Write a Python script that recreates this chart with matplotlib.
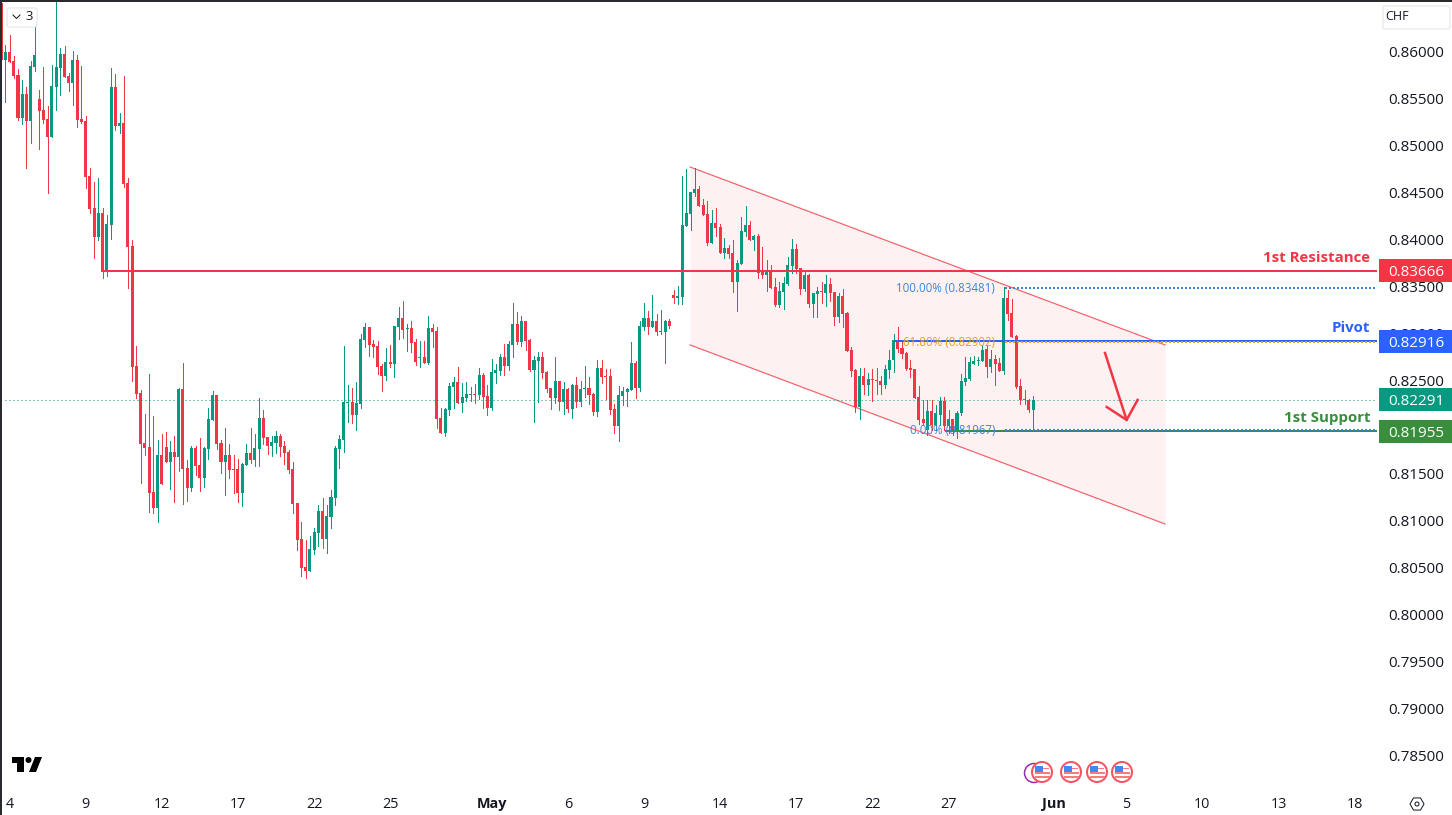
import numpy as np
import matplotlib
matplotlib.use('Agg')
import matplotlib.pyplot as plt
from matplotlib.patches import Circle, Polygon, Rectangle, FancyBboxPatch

plt.rcParams['font.family'] = ['Open Sans', 'DejaVu Sans']

# 4h candles, prices in 1e-5 CHF
opens = np.array([
    86519, 85915, 86000, 85904, 85755, 85296, 85552, 85264, 85840, 85499,
    85382, 85285, 85093, 85627, 85830, 85979, 85744, 85670, 85915, 85285,
    85264, 84677, 84336, 84027, 84283, 83653, 84155, 85627, 85211, 85243,
    84603, 83931, 82651, 82363, 81829, 81787, 81307, 81136, 81701, 81787,
    81627, 81733, 81680, 82406, 81563, 81349, 81776, 81595, 81456, 81765,
    82075, 82342, 81829, 81627, 81701, 81552, 81552, 81296, 81595, 81723,
    81648, 81765, 82096, 81893, 81797, 81829, 81904, 81797, 81733, 81552,
    81189, 80805, 80507, 80464, 80688, 80869, 81104, 80805, 81040, 81243,
    81765, 81861, 82256, 82267, 82128, 82245, 82928, 83067, 82885, 82864,
    82651, 82544, 82693, 82672, 83067, 83163, 83045, 83056, 82907, 82736,
    82747, 82683, 83056, 83024, 82096, 81936, 82181, 82427, 82480, 82256,
    82309, 82341, 82352, 82341, 82555, 82330, 82203, 82576, 82597, 82747,
    82651, 82875, 83099, 82907, 83131, 82928, 82608, 82704, 82747, 82587,
    82416, 82309, 82491, 82267, 82405, 82192, 82448, 82267, 82405, 82416,
    82352, 82160, 82629, 82544, 82544, 82192, 82011, 82330, 82373, 82395,
    82683, 82416, 83067, 83163, 83067, 83131, 83013, 83013, 83131, 83408,
    83376, 83386, 84144, 84272, 84496, 84539, 84368, 84272, 83963, 84176,
    84133, 83856, 83909, 83856, 83546, 83739, 84080, 84155, 83995, 84037,
    83653, 83621, 83664, 83493, 83301, 83440, 83525, 83717, 83899, 83696,
    83472, 83621, 83312, 83418, 83450, 83429, 83525, 83440, 83173, 83397,
    83216, 82822, 82608, 82213, 82544, 82448, 82512, 82502, 82491, 82448,
    82608, 82715, 82928, 82843, 82790, 82630, 82619, 82320, 82085, 81968,
    82171, 82021, 82128, 82278, 82011, 82085, 81947, 82149, 82480, 82512,
    82672, 82704, 82704, 82832, 82640, 82726, 82683, 82598, 83376, 83216,
    82971, 82438, 82299, 82288, 82181,
]) / 1e5
closes = np.array([
    85915, 86000, 85894, 85744, 85296, 85552, 85264, 85851, 85968, 85371,
    85275, 85093, 85638, 85840, 85979, 85734, 85670, 85915, 85275, 85253,
    84667, 84325, 84027, 84283, 83653, 84165, 85627, 85211, 85243, 84592,
    83920, 82644, 82352, 81819, 81776, 81296, 81136, 81701, 81392, 81627,
    81733, 81680, 82406, 81552, 81349, 81776, 81584, 81456, 81776, 82086,
    82342, 81819, 81627, 81701, 81541, 81541, 81296, 81605, 81723, 81648,
    81776, 82096, 81883, 81797, 81840, 81904, 81787, 81723, 81541, 81179,
    80795, 80496, 80464, 80699, 80880, 81104, 80805, 81051, 81253, 81776,
    81872, 82267, 82267, 82128, 82256, 82939, 83067, 82875, 82853, 82640,
    82544, 82693, 82672, 83077, 83163, 83035, 83056, 82896, 82693, 82747,
    82683, 83056, 83013, 82085, 81936, 82192, 82437, 82480, 82256, 82320,
    82352, 82352, 82341, 82555, 82320, 82203, 82587, 82608, 82747, 82651,
    82885, 83099, 82907, 83131, 82917, 82608, 82715, 82747, 82576, 82405,
    82309, 82491, 82267, 82405, 82192, 82448, 82267, 82405, 82416, 82341,
    82160, 82629, 82533, 82533, 82181, 82011, 82341, 82384, 82405, 82683,
    82416, 83077, 83163, 83067, 83131, 83013, 83024, 83131, 83077, 83376,
    83397, 84155, 84283, 84507, 84539, 84357, 84261, 83963, 84176, 84123,
    83856, 83909, 83845, 83546, 83749, 84091, 84155, 83995, 84037, 83643,
    83621, 83653, 83482, 83301, 83450, 83536, 83728, 83899, 83685, 83472,
    83621, 83312, 83429, 83450, 83440, 83525, 83429, 83173, 83397, 83205,
    82811, 82598, 82213, 82544, 82448, 82512, 82502, 82491, 82448, 82619,
    82715, 82928, 82832, 82779, 82619, 82608, 82310, 82075, 82043, 82171,
    82021, 82149, 82278, 82011, 82085, 81947, 82149, 82491, 82523, 82694,
    82704, 82715, 82822, 82640, 82726, 82672, 82598, 83376, 83206, 82960,
    82427, 82288, 82288, 82181, 82291,
]) / 1e5
highs = np.array([
    86555, 86075, 86182, 85958, 85819, 85702, 85627, 85904, 86342, 85595,
    85840, 85424, 85862, 86555, 86043, 86064, 85776, 86011, 85968, 85851,
    85317, 84763, 84613, 84656, 84336, 84261, 85830, 85766, 85350, 85744,
    84656, 83995, 82864, 82395, 82139, 82566, 82117, 81861, 81925, 81947,
    81851, 81904, 82416, 82683, 81648, 81797, 81797, 81883, 81787, 82203,
    82384, 82342, 81861, 81990, 81819, 81701, 81659, 81616, 81819, 81989,
    81925, 82310, 82182, 81893, 81904, 81957, 81925, 81851, 81755, 81627,
    81189, 80987, 80795, 80837, 80923, 81168, 81243, 81168, 81328, 81797,
    81915, 82864, 82448, 82416, 82480, 82992, 83109, 83067, 82928, 82917,
    82672, 82843, 82875, 83077, 83280, 83344, 83099, 83131, 82939, 82917,
    82917, 83184, 83099, 83067, 82203, 82203, 82469, 82533, 82640, 82469,
    82480, 82427, 82459, 82629, 82576, 82448, 82725, 82672, 82779, 82885,
    82917, 83323, 83227, 83184, 83131, 82939, 82757, 82800, 82800, 82597,
    82416, 82747, 82491, 82480, 82416, 82459, 82533, 82491, 82651, 82533,
    82363, 82715, 82715, 82619, 82619, 82245, 82437, 82427, 82416, 82907,
    82704, 83131, 83323, 83237, 83408, 83205, 83248, 83141, 83152, 83461,
    83504, 84677, 84752, 84507, 84763, 84571, 84432, 84411, 84315, 84336,
    84165, 84016, 83941, 83995, 83781, 84240, 84357, 84197, 84048, 84059,
    83920, 83781, 83728, 83589, 83546, 83600, 83813, 84005, 83952, 83696,
    83653, 83632, 83429, 83493, 83546, 83621, 83589, 83440, 83429, 83472,
    83227, 82854, 82619, 82630, 82630, 82576, 82619, 82630, 82544, 82662,
    82822, 82992, 83067, 82928, 82800, 82715, 82619, 82438, 82288, 82288,
    82288, 82235, 82320, 82320, 82181, 82085, 82171, 82566, 82743, 82743,
    82758, 82750, 82875, 82875, 82822, 82768, 82736, 83494, 83462, 83366,
    82982, 82512, 82395, 82299, 82331,
]) / 1e5
lows = np.array([
    85915, 85470, 85894, 85723, 85275, 85232, 84763, 85030, 85798, 84965,
    85243, 84496, 85093, 85382, 85542, 85734, 85584, 85435, 85200, 85243,
    84549, 84283, 83803, 83995, 83589, 83611, 84005, 85168, 85136, 84560,
    83483, 82491, 82310, 81403, 81701, 81093, 81083, 80987, 81392, 81627,
    81339, 81200, 81531, 81179, 81211, 81317, 81488, 81317, 81360, 81659,
    82075, 81765, 81509, 81275, 81456, 81296, 81200, 81157, 81595, 81616,
    81584, 81584, 81819, 81712, 81691, 81723, 81691, 81605, 81509, 81083,
    80688, 80411, 80389, 80464, 80645, 80731, 80709, 80656, 80923, 81168,
    81563, 81733, 82053, 82043, 81968, 82203, 82853, 82757, 82747, 82565,
    82384, 82501, 82640, 82533, 82939, 82949, 82811, 82800, 82661, 82640,
    82683, 82672, 82853, 81989, 81936, 81904, 82128, 82203, 82256, 82160,
    82277, 82277, 82256, 82298, 82203, 82128, 82181, 82469, 82555, 82555,
    82608, 82747, 82885, 82864, 82821, 82597, 82053, 82267, 82523, 82373,
    82192, 82256, 82181, 82138, 82160, 82096, 82213, 82224, 82320, 82245,
    82128, 82117, 82469, 82298, 82138, 81936, 81850, 82234, 82224, 82395,
    82309, 82384, 83035, 82992, 83067, 82981, 82992, 82683, 83056, 83322,
    83312, 83312, 84144, 84101, 84464, 84357, 84261, 83941, 83963, 84037,
    83856, 83803, 83803, 83440, 83237, 83739, 84037, 83995, 83888, 83589,
    83589, 83450, 83482, 83290, 83280, 83258, 83515, 83643, 83643, 83418,
    83450, 83280, 83173, 83173, 83322, 83290, 83344, 83088, 83120, 83066,
    82811, 82544, 82160, 82085, 82352, 82341, 82277, 82352, 82352, 82416,
    82523, 82587, 82800, 82736, 82608, 82533, 82310, 82032, 82021, 81915,
    81968, 81968, 82021, 81968, 81933, 81915, 81879, 82128, 82448, 82502,
    82672, 82662, 82704, 82533, 82587, 82448, 82598, 82566, 83142, 82960,
    82416, 82245, 82245, 82160, 81967,
]) / 1e5

# 0.82000 is left out, the support tag hides it in the reference
y_ticks = [0.86, 0.855, 0.85, 0.845, 0.84, 0.835, 0.83, 0.825, 0.815,
           0.81, 0.805, 0.80, 0.795, 0.79, 0.785]
x_tick_bars = [2, 20, 38, 56, 74, 92, 116, 134, 152, 170, 188, 206, 224, 249, 266, 284, 302, 320]
x_tick_labels = ['4', '9', '12', '17', '22', '25', 'May', '6', '9', '14', '17', '22', '27',
                 'Jun', '5', '10', '13', '18']

resistance = 0.83666
pivot = 0.82916
support = 0.81955
last_price = 0.82291
fib_100 = 0.83481
fib_618 = 0.82902
fib_0 = 0.81967

channel_x = [162.9, 275.2]
channel_top = [0.84773, 0.82875]
channel_bottom = [0.82875, 0.80965]

arrow_shaft_x = [261.0, 266.1]
arrow_shaft_y = [0.82789, 0.82075]
arrow_head_x = [261.4, 266.1, 268.7]
arrow_head_y = [0.82213, 0.82075, 0.82288]

RED = '#F23645'
GREEN = '#089981'
BLUE = '#2962FF'
DGREEN = '#388E3C'
FIB_BLUE = '#3A86DC'
FIB_ORANGE = '#E8A317'
INK = '#131722'
PX = 0.72  # one pixel in points at dpi 100

fig = plt.figure(figsize=(14.52, 8.15), dpi=100)
ax = fig.add_axes([2 / 1452, 1 - 795 / 815, 1375 / 1452, 793 / 815])
ax.set_xlim(0.22, 325.3)
ax.set_ylim(0.78074, 0.86533)
for s in ax.spines.values():
    s.set_visible(False)

# channel first so the candles sit on top of it
ax.fill_between(channel_x, channel_bottom, channel_top, color='#FDF1F1', lw=0, zorder=1)
ax.plot(channel_x, channel_top, color='#F4616C', lw=1.2 * PX, zorder=2)
ax.plot(channel_x, channel_bottom, color='#F4616C', lw=1.2 * PX, zorder=2)

bars = np.arange(len(opens))
colors = [GREEN if c >= o else RED for o, c in zip(opens, closes)]
ax.vlines(bars, lows, highs, colors=colors, lw=PX, antialiased=False, zorder=3)
ax.bar(bars, np.abs(closes - opens), bottom=np.minimum(opens, closes), width=0.72,
       color=colors, lw=0, antialiased=False, zorder=4)

xmax = ax.get_xlim()[1]
ax.plot([1, xmax], [last_price, last_price], color=GREEN, lw=PX, ls=(0, (1, 3)), zorder=5)
ax.plot([24, xmax], [resistance, resistance], color=RED, lw=2 * PX, zorder=5)
ax.plot([211.5, xmax], [pivot, pivot], color=BLUE, lw=2 * PX, zorder=5)
ax.plot([223.5, xmax], [support, support], color=DGREEN, lw=2 * PX, zorder=5)
for level, start, col in [(fib_100, 237.3, FIB_BLUE), (fib_618, 237.3, FIB_ORANGE), (fib_0, 237.3, FIB_BLUE)]:
    ax.plot([start, xmax], [level, level], color=col, lw=2 * PX, ls=(0, (1, 1)), zorder=6)

fib_bar = 235
ax.text(fib_bar, fib_100, '100.00% (0.83481)', color=FIB_BLUE, fontsize=8.3, ha='right', va='center', zorder=7)
ax.text(fib_bar, fib_618, '61.80% (0.82902)', color=FIB_ORANGE, fontsize=8.3, ha='right', va='center', zorder=7)
ax.text(fib_bar, fib_0, '0.00% (0.81967)', color=FIB_BLUE, fontsize=8.3, ha='right', va='center', zorder=7)

ax.plot(arrow_shaft_x, arrow_shaft_y, color=RED, lw=2.5 * PX, zorder=7)
ax.plot(arrow_head_x, arrow_head_y, color=RED, lw=2.5 * PX, zorder=7)

ax.yaxis.tick_right()
ax.set_yticks(y_ticks)
ax.set_yticklabels([f'{v:.5f}' for v in y_ticks], fontsize=11, color=INK)
ax.tick_params(axis='y', length=0, pad=8)
ax.set_xticks(x_tick_bars)
ax.set_xticklabels(x_tick_labels, fontsize=10.4, color=INK)
ax.tick_params(axis='x', length=0, pad=1.5)
for lab in ax.get_xticklabels():
    if lab.get_text() in ('May', 'Jun'):
        lab.set_fontweight('bold')

# overlay in pixel coordinates for tags, buttons and icons
deco = fig.add_axes([0, 0, 1, 1])
deco.set_xlim(0, 1452)
deco.set_ylim(815, 0)
deco.axis('off')
deco.patch.set_alpha(0)

def price_px(price):
    return 815 - ax.transData.transform((0, price))[1]

deco.add_patch(Rectangle((0, 0), 2, 815, color='#2A2A2E', lw=0))
deco.add_patch(Rectangle((0, 0), 1452, 2, color='#2A2A2E', lw=0))

for price, col, name in [(resistance, RED, '1st Resistance'), (pivot, BLUE, 'Pivot'),
                         (last_price, GREEN, None), (support, DGREEN, '1st Support')]:
    y = price_px(price)
    deco.add_patch(Rectangle((1379, y - 11.5), 73, 23, color=col, lw=0))
    deco.text(1388.5, y, f'{price:.5f}', color='white', fontsize=11, ha='left', va='center_baseline')
    if name:
        deco.text(1370, y - 13, name, color=col, fontsize=10.8, fontweight='bold', ha='right', va='center')

# top corner buttons
deco.add_patch(FancyBboxPatch((7, 8), 30, 19, boxstyle='round,pad=0,rounding_size=2', fc='white', ec='#E0E3EB', lw=PX))
deco.plot([13, 16.5, 20], [15, 18.5, 15], color=INK, lw=PX)
deco.text(29, 17, '3', color=INK, fontsize=9.4, ha='center', va='center')
deco.add_patch(FancyBboxPatch((1383, 6), 67, 23, boxstyle='round,pad=0,rounding_size=2', fc='white', ec='#E0E3EB', lw=PX))
deco.text(1397, 17, 'CHF', color=INK, fontsize=9, ha='center', va='center')

# logo
deco.add_patch(Polygon([(12, 757), (24, 757), (24, 772), (17, 772), (17, 763), (12, 763)], color='black', lw=0))
deco.add_patch(Circle((28.5, 760), 3, color='black', lw=0))
deco.add_patch(Polygon([(35, 757), (42, 757), (36, 772), (29, 772)], color='black', lw=0))

# calendar event icons
deco.add_patch(Circle((1034, 773), 9.5, fc='white', ec='#9C27B0', lw=1.5 * PX))
for cx in [1042, 1071, 1097, 1122]:
    deco.add_patch(Circle((cx, 772), 10, fc='white', ec='#F7525F', lw=2 * PX, zorder=3))
    deco.add_patch(Rectangle((cx + 1, 767.5), 6, 1.8, color='#F77C80', lw=0, zorder=4))
    for dy in (0.5, 4.5):
        deco.add_patch(Rectangle((cx - 7.5, 772 + dy - 0.8), 15, 1.8, color='#F77C80', lw=0, zorder=4))
    deco.add_patch(Rectangle((cx - 7, 766), 8, 6, color='#3D8BF0', lw=0, zorder=4))

# settings gear
hex_a = np.deg2rad(np.arange(0, 360, 60))
deco.add_patch(Polygon(np.c_[1417 + 7 * np.cos(hex_a), 804 + 7 * np.sin(hex_a)], fc='white', ec=INK, lw=PX))
deco.add_patch(Circle((1417, 804), 2, fc='white', ec=INK, lw=PX))

fig.savefig('out.png', dpi=100)
